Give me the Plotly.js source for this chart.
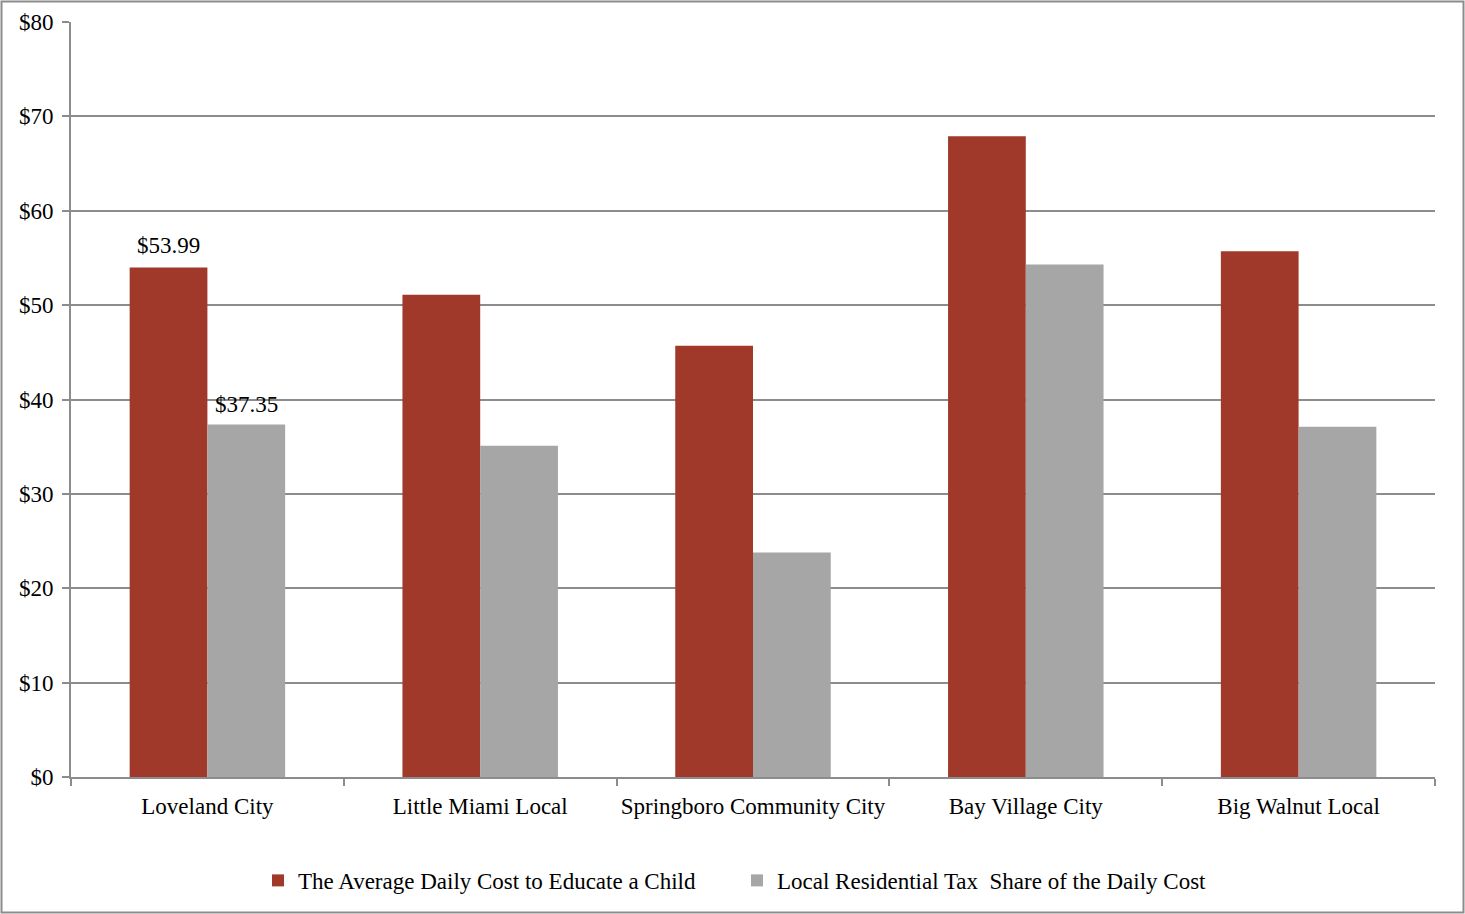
<!DOCTYPE html>
<html>
<head>
<meta charset="utf-8">
<script src="https://cdn.plot.ly/plotly-3.0.1.min.js"></script>
<style>
html, body { margin: 0; padding: 0; background: #fff; }
#chart { width: 1465px; height: 914px; }
</style>
</head>
<body>
<div id="chart"></div>
<script>
const categories = ["Loveland City", "Little Miami Local", "Springboro Community City", "Bay Village City", "Big Walnut Local"];
const avgDailyCost = [53.99, 51.1, 45.7, 67.9, 55.7];
const localTaxShare = [37.35, 35.1, 23.8, 54.3, 37.1];
const seriesNames = ["The Average Daily Cost to Educate a Child", "Local Residential Tax  Share of the Daily Cost"];
const tickValues = [0, 10, 20, 30, 40, 50, 60, 70, 80];
const tickLabels = tickValues.map(v => "$" + v);

const FONT = "'Liberation Serif', 'DejaVu Serif', serif";
const FS = 23;
const GRID = "#8c8c8c";
const PW = 1364; // plot width in px
const px = v => (v - 71) / PW;

const traces = [
  {
    type: "bar", name: seriesNames[0], x: categories, y: avgDailyCost,
    marker: { color: "#A0392A" }, hoverinfo: "x+y", legend: "legend"
  },
  {
    type: "bar", name: seriesNames[1], x: categories, y: localTaxShare,
    marker: { color: "#A6A6A6" }, hoverinfo: "x+y", legend: "legend2"
  }
];

const annotations = [
  { x: categories[0], y: avgDailyCost[0], text: "$" + avgDailyCost[0].toFixed(2), xshift: -39, yshift: 7 },
  { x: categories[0], y: localTaxShare[0], text: "$" + localTaxShare[0].toFixed(2), xshift: 39, yshift: 6 }
].map(a => Object.assign({
  xref: "x", yref: "y", showarrow: false, yanchor: "bottom", xanchor: "center",
  font: { family: FONT, size: FS, color: "#000" }
}, a));

const legendBase = {
  orientation: "h", xanchor: "left", y: -0.137, yanchor: "middle",
  font: { family: FONT, size: FS, color: "#000" }, itemwidth: 30,
  bgcolor: "rgba(0,0,0,0)"
};

const layout = {
  width: 1465, height: 914,
  margin: { l: 71, r: 30, t: 22, b: 137, autoexpand: false },
  paper_bgcolor: "#fff", plot_bgcolor: "#fff",
  font: { family: FONT, size: FS, color: "#000" },
  barmode: "group", bargap: 0.43, bargroupgap: 0,
  showlegend: true,
  legend: Object.assign({}, legendBase, { x: px(258) }),
  legend2: Object.assign({}, legendBase, { x: px(737) }),
  xaxis: {
    type: "category", showgrid: false, showline: true, linecolor: GRID, linewidth: 2,
    ticks: "outside", tickson: "boundaries", ticklen: 7, tickcolor: GRID, tickwidth: 2,
    tickangle: 0, automargin: false,
    tickfont: { family: FONT, size: FS, color: "#000" }, ticklabelstandoff: 7,
    zeroline: false, fixedrange: true
  },
  yaxis: {
    range: [0, 80], tickvals: tickValues, ticktext: tickLabels,
    showgrid: true, gridcolor: GRID, gridwidth: 2,
    showline: true, linecolor: GRID, linewidth: 2,
    ticks: "outside", ticklen: 7, tickcolor: GRID, tickwidth: 2, automargin: false,
    tickfont: { family: FONT, size: FS, color: "#000" }, ticklabelstandoff: 4,
    zeroline: false, fixedrange: true
  },
  annotations: annotations,
  shapes: [
    { type: "rect", xref: "paper", yref: "paper",
      x0: (1.5 - 71) / PW, x1: (1463.5 - 71) / PW,
      y0: (777 - 912.5) / 755, y1: (777 - 1.5) / 755,
      line: { color: "#8c8c8c", width: 2 }, fillcolor: "rgba(0,0,0,0)", layer: "above" }
  ]
};

Plotly.newPlot("chart", traces, layout, { displayModeBar: false, staticPlot: true });
</script>
</body>
</html>
